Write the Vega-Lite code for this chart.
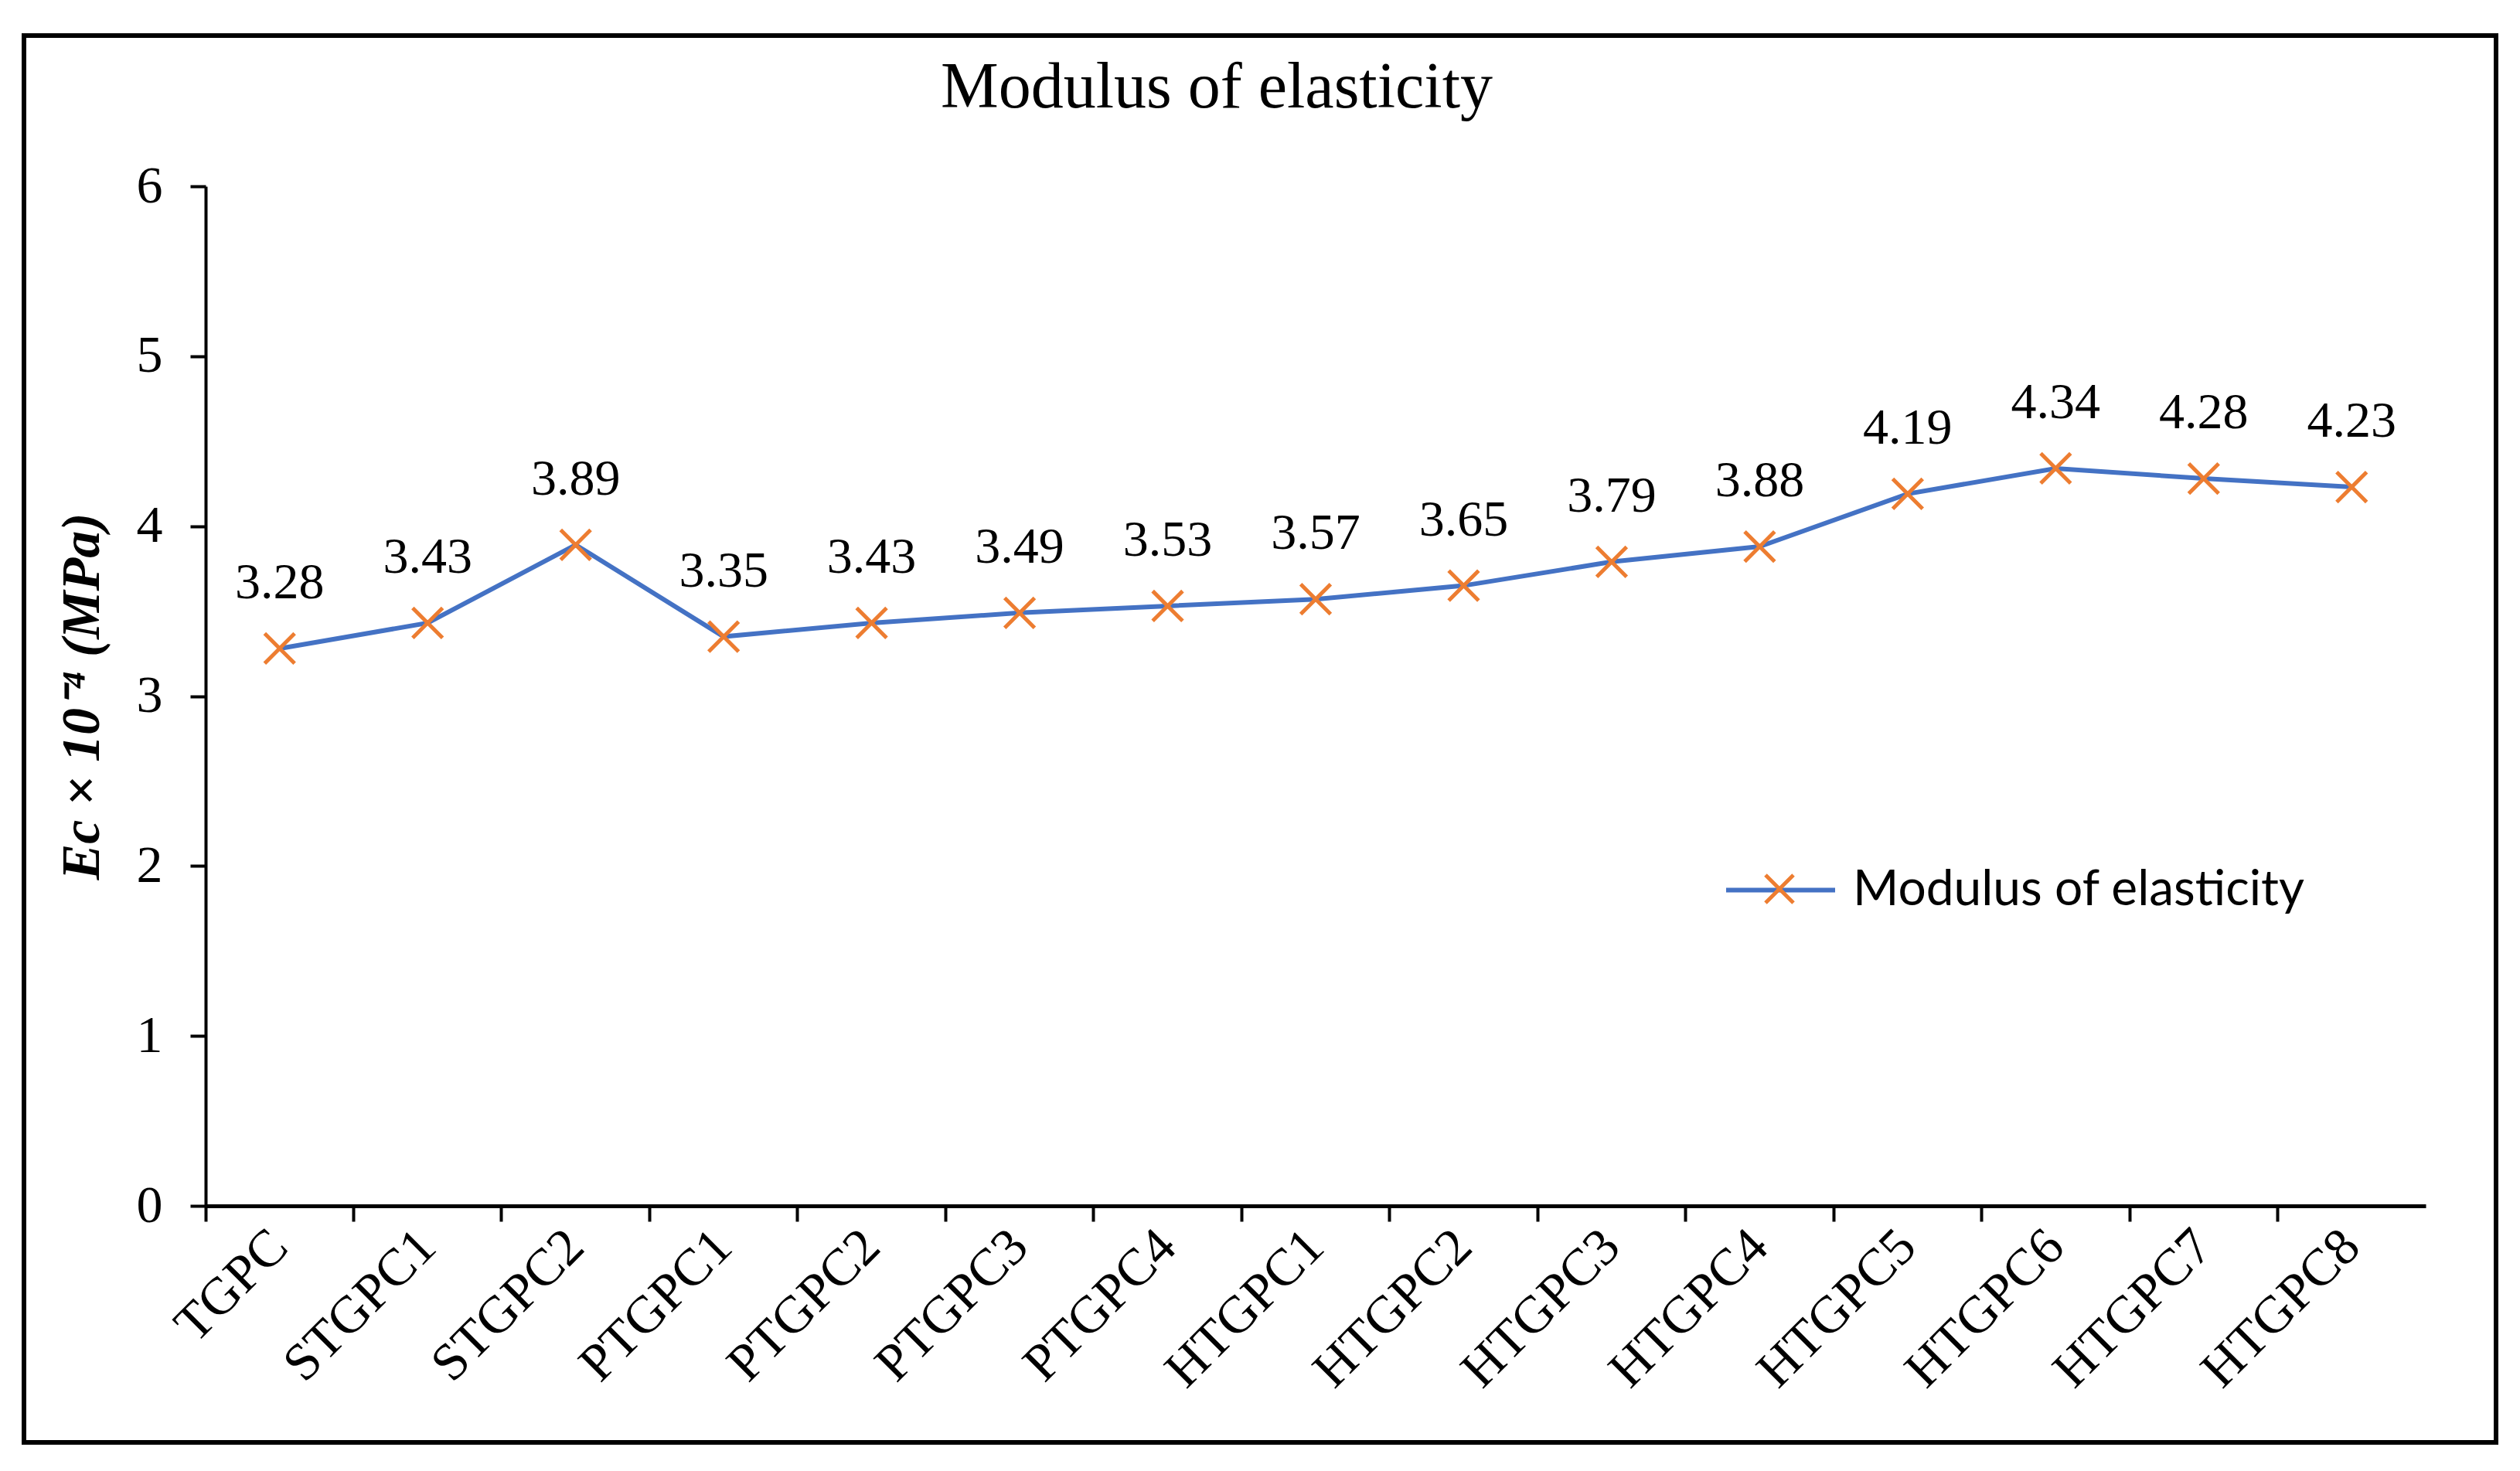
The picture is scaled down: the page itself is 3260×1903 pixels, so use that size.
{
  "$schema": "https://vega.github.io/schema/vega-lite/v6.json",
  "autosize": {"type": "none"},
  "padding": {"left": 31, "top": 46, "right": 31, "bottom": 37},
  "width": 3198,
  "height": 1820,
  "background": "white",
  "config": {
    "view": {"stroke": "black", "strokeWidth": 6},
    "font": "Liberation Serif",
    "text": {"font": "Liberation Serif"}
  },
  "title": {
    "text": "Modulus of elasticity",
    "font": "Liberation Serif",
    "fontSize": 84,
    "fontWeight": "normal",
    "color": "black",
    "anchor": "middle",
    "frame": "group",
    "baseline": "alphabetic",
    "offset": -177,
    "dx": -56
  },
  "data": {
    "values": [
      {"mix": "TGPC", "ec": 3.28, "series": "Modulus of elasticity"},
      {"mix": "STGPC1", "ec": 3.43, "series": "Modulus of elasticity"},
      {"mix": "STGPC2", "ec": 3.89, "series": "Modulus of elasticity"},
      {"mix": "PTGPC1", "ec": 3.35, "series": "Modulus of elasticity"},
      {"mix": "PTGPC2", "ec": 3.43, "series": "Modulus of elasticity"},
      {"mix": "PTGPC3", "ec": 3.49, "series": "Modulus of elasticity"},
      {"mix": "PTGPC4", "ec": 3.53, "series": "Modulus of elasticity"},
      {"mix": "HTGPC1", "ec": 3.57, "series": "Modulus of elasticity"},
      {"mix": "HTGPC2", "ec": 3.65, "series": "Modulus of elasticity"},
      {"mix": "HTGPC3", "ec": 3.79, "series": "Modulus of elasticity"},
      {"mix": "HTGPC4", "ec": 3.88, "series": "Modulus of elasticity"},
      {"mix": "HTGPC5", "ec": 4.19, "series": "Modulus of elasticity"},
      {"mix": "HTGPC6", "ec": 4.34, "series": "Modulus of elasticity"},
      {"mix": "HTGPC7", "ec": 4.28, "series": "Modulus of elasticity"},
      {"mix": "HTGPC8", "ec": 4.23, "series": "Modulus of elasticity"}
    ]
  },
  "encoding": {
    "x": {
      "field": "mix",
      "type": "nominal",
      "sort": null,
      "scale": {"type": "band", "range": [235, 3107], "paddingInner": 0, "paddingOuter": 0},
      "axis": {
        "title": null,
        "offset": -306,
        "orient": "bottom",
        "bandPosition": 0,
        "tickExtra": true,
        "tickSize": 20,
        "tickWidth": 4,
        "tickColor": "black",
        "domainColor": "black",
        "domainWidth": 5,
        "labelAngle": -45,
        "labelAlign": "right",
        "labelBaseline": "middle",
        "labelPadding": 22,
        "labelFont": "Liberation Serif",
        "labelFontSize": 68,
        "labelColor": "black",
        "labelLimit": 1000,
        "labelOverlap": false,
        "grid": false
      }
    },
    "y": {
      "field": "ec",
      "type": "quantitative",
      "scale": {"domain": [0, 6], "range": [1514, 195], "nice": false, "zero": true},
      "axis": {
        "title": "Ec × 10⁻⁴ (MPa)",
        "titleFont": "Liberation Serif",
        "titleFontSize": 70,
        "titleFontWeight": "bold",
        "titleFontStyle": "italic",
        "titleColor": "black",
        "titlePadding": 34,
        "offset": -235,
        "values": [0, 1, 2, 3, 4, 5, 6],
        "tickSize": 20,
        "tickWidth": 4,
        "tickColor": "black",
        "domainColor": "black",
        "domainWidth": 4,
        "labelFont": "Liberation Serif",
        "labelFontSize": 68,
        "labelColor": "black",
        "labelPadding": 36,
        "grid": false
      }
    }
  },
  "layer": [
    {
      "mark": {"type": "line", "strokeWidth": 6},
      "encoding": {
        "color": {
          "field": "series",
          "type": "nominal",
          "scale": {"range": ["#4472C4"]},
          "legend": {
            "title": null,
            "orient": "none",
            "legendX": 2199,
            "legendY": 1032,
            "padding": 0,
            "symbolType": "stroke",
            "symbolSize": 19881,
            "symbolStrokeWidth": 6,
            "symbolStrokeColor": "#4472C4",
            "labelOffset": 20,
            "labelFont": "Lato",
            "labelFontSize": 64,
            "labelColor": "black",
            "labelLimit": 1000
          }
        }
      }
    },
    {
      "mark": {"type": "point", "filled": false, "stroke": "#ED7D31", "strokeWidth": 5, "size": 1500, "opacity": 1},
      "encoding": {
        "shape": {
          "datum": "Modulus of elasticity",
          "scale": {"range": ["M-1,-1L1,1M1,-1L-1,1"]},
          "legend": {
            "title": null,
            "orient": "none",
            "legendX": 2250,
            "legendY": 1083,
            "padding": 0,
            "symbolSize": 1300,
            "symbolStrokeWidth": 5,
            "symbolStrokeColor": "#ED7D31",
            "symbolFillColor": "transparent",
            "labelOpacity": 0,
            "labelFontSize": 1
          }
        }
      }
    },
    {
      "mark": {"type": "text", "font": "Liberation Serif", "fontSize": 66, "baseline": "alphabetic", "dy": -65, "color": "black"},
      "encoding": {
        "text": {"field": "ec", "type": "quantitative", "format": ".2f"}
      }
    }
  ]
}
